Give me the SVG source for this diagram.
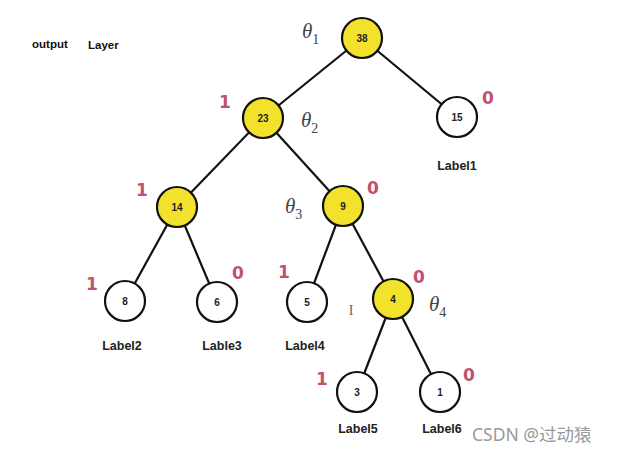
<svg xmlns="http://www.w3.org/2000/svg" width="617" height="452" viewBox="0 0 617 452">
<style>
.n circle{stroke:#111;stroke-width:2.2}
.y circle{fill:#f3e22c}
.w circle{fill:#fff}
.n text{font-family:"Liberation Sans",Arial,sans-serif;font-size:10px;font-weight:bold;fill:#222;text-anchor:middle}
.lbl{font-family:"Liberation Sans",Arial,sans-serif;font-size:12.5px;font-weight:bold;fill:#222;text-anchor:middle}
.bit{font-family:"DejaVu Sans",sans-serif;font-size:17px;font-weight:bold;fill:#c2506e;text-anchor:middle}
.th{font-family:"Liberation Serif","Times New Roman",serif;font-style:italic;font-size:21px;fill:#444}
.th tspan{font-style:normal;font-size:14px}
</style>
<rect width="617" height="452" fill="#fff"/>
<g id="connectors" stroke="#111" stroke-width="2.2">
<line x1="362" y1="38" x2="263" y2="118"/>
<line x1="362" y1="38" x2="457" y2="117"/>
<line x1="263" y1="118" x2="177" y2="207"/>
<line x1="263" y1="118" x2="343" y2="206"/>
<line x1="177" y1="207" x2="125" y2="301"/>
<line x1="177" y1="207" x2="217" y2="302"/>
<line x1="343" y1="206" x2="307" y2="302"/>
<line x1="343" y1="206" x2="393" y2="299"/>
<line x1="393" y1="299" x2="357" y2="392"/>
<line x1="393" y1="299" x2="440" y2="392"/>
</g>
<text x="32" y="48" font-family="Liberation Sans,Arial,sans-serif" font-size="11.5" font-weight="bold" fill="#111">output</text>
<text x="88" y="49" font-family="Liberation Sans,Arial,sans-serif" font-size="11.5" font-weight="bold" fill="#111">Layer</text>
<g id="n38" class="n y"><circle cx="362" cy="38" r="20"/><text x="362" y="41.5">38</text></g>
<g id="n15" class="n w"><circle cx="457" cy="117" r="20"/><text x="457" y="120.5">15</text></g>
<g id="n23" class="n y"><circle cx="263" cy="118" r="20"/><text x="263" y="121.5">23</text></g>
<g id="n14" class="n y"><circle cx="177" cy="207" r="20"/><text x="177" y="210.5">14</text></g>
<g id="n9" class="n y"><circle cx="343" cy="206" r="20"/><text x="343" y="209.5">9</text></g>
<g id="n8" class="n w"><circle cx="125" cy="301" r="20"/><text x="125" y="304.5">8</text></g>
<g id="n6" class="n w"><circle cx="217" cy="302" r="20"/><text x="217" y="305.5">6</text></g>
<g id="n5" class="n w"><circle cx="307" cy="302" r="20"/><text x="307" y="305.5">5</text></g>
<g id="n4" class="n y"><circle cx="393" cy="299" r="20"/><text x="393" y="302.5">4</text></g>
<g id="n3" class="n w"><circle cx="357" cy="392" r="20"/><text x="357" y="395.5">3</text></g>
<g id="n1" class="n w"><circle cx="440" cy="392" r="20"/><text x="440" y="395.5">1</text></g>
<text class="lbl" x="457" y="170">Label1</text>
<text class="lbl" x="122" y="350">Label2</text>
<text class="lbl" x="222" y="350">Lable3</text>
<text class="lbl" x="305" y="350">Label4</text>
<text class="lbl" x="358" y="433">Label5</text>
<text class="lbl" x="442" y="433">Label6</text>
<text class="bit" x="225" y="108">1</text>
<text class="bit" x="488" y="104">0</text>
<text class="bit" x="142" y="196">1</text>
<text class="bit" x="373" y="194">0</text>
<text class="bit" x="92" y="290">1</text>
<text class="bit" x="238" y="279">0</text>
<text class="bit" x="284" y="278">1</text>
<text class="bit" x="419" y="283">0</text>
<text class="bit" x="322" y="385">1</text>
<text class="bit" x="469" y="381">0</text>
<text class="th" x="302" y="38">θ<tspan dy="6">1</tspan></text>
<text class="th" x="301" y="127">θ<tspan dy="6">2</tspan></text>
<text class="th" x="285" y="213">θ<tspan dy="6">3</tspan></text>
<text class="th" x="429" y="311">θ<tspan dy="6">4</tspan></text>
<text x="351" y="315" font-family="Liberation Serif,serif" font-size="14" fill="#666" text-anchor="middle">I</text>
<text x="472" y="441" font-family="Noto Sans,Noto Sans CJK SC,sans-serif" font-size="17.5" fill="#9a9a9a">CSDN @过动猿</text>
</svg>
